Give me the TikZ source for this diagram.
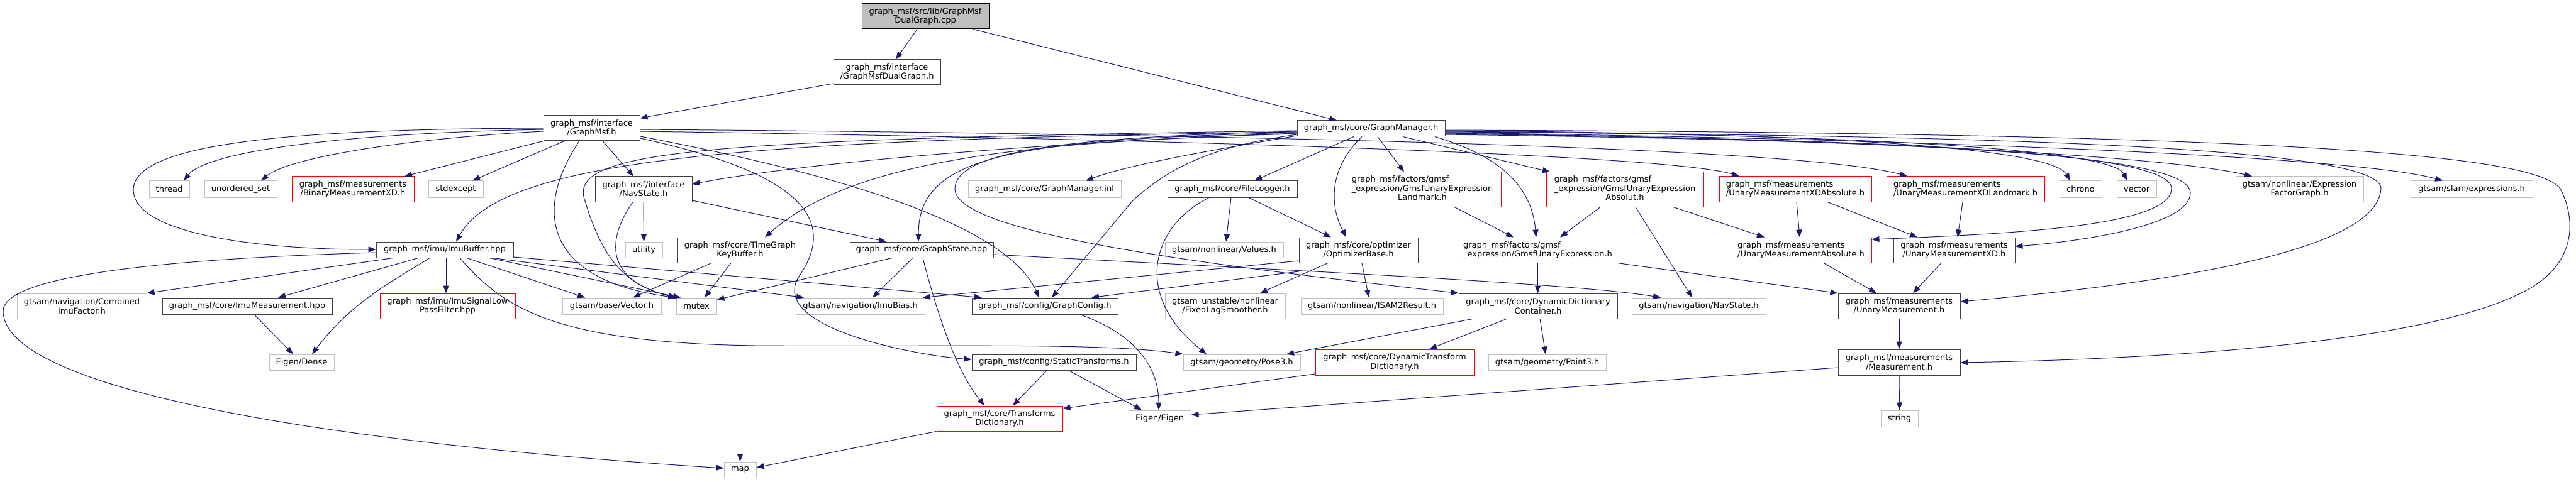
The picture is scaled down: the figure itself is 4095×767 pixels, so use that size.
\documentclass[tikz,border=0pt]{standalone}
\usepackage{fontspec}
\setmainfont{DejaVu Sans}
\usetikzlibrary{arrows.meta}
\definecolor{edgeblue}{HTML}{191970}
\definecolor{boxdark}{HTML}{404040}
\definecolor{boxlight}{HTML}{BFBFBF}
\newcommand\mkbox[7]{\node[#2, minimum width={#5pt-#3pt}, minimum height={#6pt-#4pt}] (#1) at ({(#3+#5)/2},{(#4+#6)/2}) {#7};}
\tikzset{
 nb/.style={draw=boxdark, line width=1pt, fill=white, inner sep=0pt, font={\fontsize{13}{14.5}\selectfont}, align=center},
 ne/.style={nb, draw=boxlight},
 nr/.style={nb, draw=red},
 nroot/.style={nb, draw=black, fill=boxlight},
 dep/.style={draw=edgeblue, line width=1pt, -{Triangle[length=12pt,width=9pt]}},
}
\begin{document}
\begin{tikzpicture}[x=1pt,y=-1pt]
\useasboundingbox[fill=white] (0,0) rectangle (4095,767);
% row 0-1
\mkbox{root}{nroot}{1370}{6}{1572}{46}{graph\_msf/src/lib/GraphMsf\\DualGraph.cpp}
\mkbox{dual}{nb}{1325}{95}{1495}{135}{graph\_msf/interface\\/GraphMsfDualGraph.h}
\mkbox{gmsf}{nb}{864}{184}{1017}{224}{graph\_msf/interface\\/GraphMsf.h}
\mkbox{gm}{nb}{2062}{192}{2297}{217}{graph\_msf/core/GraphManager.h}
% row 2
\mkbox{thread}{ne}{237}{288}{301}{314}{thread}
\mkbox{uset}{ne}{325}{288}{440}{314}{unordered\_set}
\mkbox{binxd}{nr}{464}{281}{658}{321}{graph\_msf/measurements\\/BinaryMeasurementXD.h}
\mkbox{stdexcept}{ne}{681}{288}{768}{314}{stdexcept}
\mkbox{navi}{nb}{946}{281}{1100}{321}{graph\_msf/interface\\/NavState.h}
\mkbox{inl}{ne}{1539}{288}{1782}{314}{graph\_msf/core/GraphManager.inl}
\mkbox{flog}{nb}{1856}{288}{2062}{314}{graph\_msf/core/FileLogger.h}
\mkbox{lmk}{nr}{2136}{274}{2386}{329}{\begin{tabular}{@{}l@{}}graph\_msf/factors/gmsf\\\_expression/GmsfUnaryExpression\\\multicolumn{1}{@{}c@{}}{Landmark.h}\end{tabular}}
\mkbox{absl}{nr}{2458}{274}{2708}{329}{\begin{tabular}{@{}l@{}}graph\_msf/factors/gmsf\\\_expression/GmsfUnaryExpression\\\multicolumn{1}{@{}c@{}}{Absolut.h}\end{tabular}}
\mkbox{xdabs}{nr,align=left}{2733}{281}{2975}{321}{graph\_msf/measurements\\/UnaryMeasurementXDAbsolute.h}
\mkbox{xdlmk}{nr,align=left}{2999}{281}{3250}{321}{graph\_msf/measurements\\/UnaryMeasurementXDLandmark.h}
\mkbox{chrono}{ne}{3274}{288}{3341}{314}{chrono}
\mkbox{vector}{ne}{3365}{288}{3428}{314}{vector}
\mkbox{efg}{ne}{3554}{281}{3757}{321}{gtsam/nonlinear/Expression\\FactorGraph.h}
\mkbox{expr}{ne}{3832}{288}{4026}{314}{gtsam/slam/expressions.h}
% row 3
\mkbox{imubuf}{nb}{598}{385}{816}{410}{graph\_msf/imu/ImuBuffer.hpp}
\mkbox{utility}{ne}{994}{385}{1053}{410}{utility}
\mkbox{tgkb}{nb}{1077}{378}{1276}{418}{graph\_msf/core/TimeGraph\\KeyBuffer.h}
\mkbox{gstate}{nb}{1351}{385}{1579}{410}{graph\_msf/core/GraphState.hpp}
\mkbox{values}{ne}{1852}{385}{2040}{410}{gtsam/nonlinear/Values.h}
\mkbox{optb}{nb}{2065}{378}{2254}{418}{graph\_msf/core/optimizer\\/OptimizerBase.h}
\mkbox{gue}{nr,align=left}{2314}{378}{2575}{418}{graph\_msf/factors/gmsf\\\_expression/GmsfUnaryExpression.h}
\mkbox{uma}{nr,align=left}{2751}{378}{2975}{418}{graph\_msf/measurements\\/UnaryMeasurementAbsolute.h}
\mkbox{umxd}{nb}{3010}{378}{3203}{418}{graph\_msf/measurements\\/UnaryMeasurementXD.h}
% row 4
\mkbox{cimu}{ne}{27}{467}{233}{507}{gtsam/navigation/Combined\\ImuFactor.h}
\mkbox{imumeas}{nb}{258}{474}{528}{500}{graph\_msf/core/ImuMeasurement.hpp}
\mkbox{lpf}{nr}{604}{467}{819}{507}{graph\_msf/imu/ImuSignalLow\\PassFilter.hpp}
\mkbox{vec}{ne}{894}{474}{1051}{500}{gtsam/base/Vector.h}
\mkbox{mutex}{ne}{1075}{474}{1139}{500}{mutex}
\mkbox{imubias}{ne}{1265}{474}{1470}{500}{gtsam/navigation/ImuBias.h}
\mkbox{gconf}{nb}{1545}{474}{1777}{500}{graph\_msf/config/GraphConfig.h}
\mkbox{fls}{ne}{1852}{467}{2043}{507}{gtsam\_unstable/nonlinear\\/FixedLagSmoother.h}
\mkbox{isam}{ne}{2068}{474}{2294}{500}{gtsam/nonlinear/ISAM2Result.h}
\mkbox{ddc}{nb}{2319}{467}{2571}{507}{graph\_msf/core/DynamicDictionary\\Container.h}
\mkbox{gnav}{ne}{2594}{474}{2807}{500}{gtsam/navigation/NavState.h}
\mkbox{um}{nb}{2922}{467}{3116}{507}{graph\_msf/measurements\\/UnaryMeasurement.h}
% row 5
\mkbox{edense}{ne}{428}{564}{531}{589}{Eigen/Dense}
\mkbox{stf}{nb}{1545}{564}{1806}{589}{graph\_msf/config/StaticTransforms.h}
\mkbox{pose3}{ne}{1881}{564}{2067}{589}{gtsam/geometry/Pose3.h}
\mkbox{dtd}{nr}{2091}{556}{2343}{597}{graph\_msf/core/DynamicTransform\\Dictionary.h}
\mkbox{point3}{ne}{2366}{564}{2553}{589}{gtsam/geometry/Point3.h}
\mkbox{meas}{nb}{2922}{556}{3116}{597}{graph\_msf/measurements\\/Measurement.h}
% row 6-7
\mkbox{tdict}{nr}{1489}{646}{1689}{686}{graph\_msf/core/Transforms\\Dictionary.h}
\mkbox{eeigen}{ne}{1794}{653}{1893}{679}{Eigen/Eigen}
\mkbox{string}{ne}{2990}{653}{3049}{679}{string}
\mkbox{map}{ne}{1151}{735}{1202}{760}{map}
% ---------- edges ----------
\draw[dep] (root.south -| 1458,0) -- (dual.north -| 1424,0);
\draw[dep] (root.south -| 1547,0) -- (gm.north -| 2125,0);
\draw[dep] (dual.west |- 0,133) -- (gmsf.east |- 0,188);
% GraphMsf.h
\draw[dep] (gmsf.west |- 0,206) .. controls (550,212) and (330,240) .. (thread.north -| 292,0);
\draw[dep] (gmsf.west |- 0,209) .. controls (650,220) and (460,250) .. (uset.north -| 415,0);
\draw[dep] (gmsf.south west) -- (binxd.north -| 643,0);
\draw[dep] (gmsf.south -| 897,0) -- (stdexcept.north -| 751,0);
\draw[dep] (gmsf.south -| 958,0) -- (navi.north -| 1007,0);
\draw[dep] (gmsf.west |- 0,204) .. controls (450,205) and (212,230) .. (212,302) .. controls (212,370) and (400,397) .. (imubuf.west |- 0,397);
\draw[dep] (gmsf.south -| 921,0) .. controls (850,330) and (860,445) .. (mutex.north west);
\draw[dep] (gmsf.east |- 0,217) .. controls (1350,280) and (1600,360) .. (gconf.north -| 1652,0);
\draw[dep] (gmsf.east |- 0,220) .. controls (1250,270) and (1340,340) .. (1270,440) .. controls (1220,520) and (1450,565) .. (stf.west |- 0,572);
\draw[dep] (gmsf.east |- 0,206) .. controls (1800,212) and (2850,230) .. (xdlmk.north -| 3032,0);
\draw[dep] (gmsf.east |- 0,209) .. controls (1800,220) and (2650,245) .. (xdabs.north -| 2765,0);
% GraphManager.h
\draw[dep] (gm.west |- 0,216) .. controls (1950,235) and (1800,260) .. (inl.north -| 1726,0);
\draw[dep] (gm.south -| 2152,0) -- (flog.north -| 1994,0);
\draw[dep] (gm.south -| 2165,0) .. controls (2110,270) and (2115,330) .. (optb.north -| 2140,0);
\draw[dep] (gm.south -| 2190,0) -- (lmk.north -| 2232,0);
\draw[dep] (gm.south -| 2230,0) -- (absl.north -| 2464,0);
\draw[dep] (gm.south -| 2281,0) .. controls (2390,250) and (2435,300) .. (gue.north -| 2442,0);
\draw[dep] (gm.west |- 0,212) .. controls (1700,225) and (1300,255) .. (navi.east |- 0,293);
\draw[dep] (gm.west |- 0,213) .. controls (1600,225) and (1350,260) .. (tgkb.north -| 1216,0);
\draw[dep] (gm.west |- 0,210) .. controls (1200,222) and (800,250) .. (imubuf.north -| 725,0);
\draw[dep] (gm.west |- 0,208) .. controls (1100,222) and (900,240) .. (930,320) .. controls (960,420) and (1000,455) .. (mutex.north west);
\draw[dep] (gm.west |- 0,211) .. controls (1600,222) and (1460,250) .. (gstate.north -| 1460,0);
\draw[dep] (gm.west |- 0,214) .. controls (1950,230) and (1870,255) .. (1800,320) -- (gconf.north -| 1672,0);
\draw[dep] (gm.west |- 0,209) .. controls (1700,218) and (1520,240) .. (1518,300) .. controls (1516,370) and (1900,420) .. (ddc.north west);
\draw[dep] (gm.east |- 0,208) .. controls (2900,212) and (3260,235) .. (chrono.north -| 3291,0);
\draw[dep] (gm.east |- 0,209) .. controls (3000,214) and (3360,240) .. (vector.north -| 3381,0);
\draw[dep] (gm.east |- 0,212) .. controls (3000,222) and (3450,250) .. (efg.north -| 3580,0);
\draw[dep] (gm.east |- 0,211) .. controls (3100,222) and (3750,250) .. (expr.north -| 3883,0);
\draw[dep] (gm.east |- 0,213) .. controls (3000,222) and (3452,240) .. (3452,300) .. controls (3452,360) and (3200,372) .. (uma.east |- 0,381);
\draw[dep] (gm.east |- 0,214) .. controls (3000,224) and (3482,240) .. (3482,307) .. controls (3482,360) and (3300,385) .. (umxd.east |- 0,392);
\draw[dep] (gm.east |- 0,210) .. controls (3200,215) and (3785,235) .. (3785,300) .. controls (3780,400) and (3450,450) .. (um.east |- 0,480);
\draw[dep] (gm.east |- 0,207) .. controls (3700,212) and (4030,250) .. (4070,300) .. controls (4100,360) and (4090,430) .. (4000,470) .. controls (3850,540) and (3500,570) .. (meas.east |- 0,577);
% NavState (interface)
\draw[dep] (navi.south) -- (utility.north);
\draw[dep] (navi.south -| 1006,0) .. controls (965,380) and (960,445) .. (mutex.north west);
\draw[dep] (navi.east |- 0,319) -- (gstate.north -| 1409,0);
% ImuBuffer
\draw[dep] (imubuf.south -| 625,0) -- (cimu.north east);
\draw[dep] (imubuf.south -| 665,0) -- (imumeas.north -| 442,0);
\draw[dep] (imubuf.south -| 683,0) .. controls (620,450) and (560,480) .. (edense.north -| 496,0);
\draw[dep] (imubuf.south -| 709,0) -- (lpf.north -| 709,0);
\draw[dep] (imubuf.south -| 742,0) -- (vec.north -| 930,0);
\draw[dep] (imubuf.south -| 778,0) -- (mutex.north -| 1082,0);
\draw[dep] (imubuf.south -| 783,0) -- (imubias.north -| 1278,0);
\draw[dep] (imubuf.east |- 0,409) -- (gconf.north -| 1561,0);
\draw[dep] (imubuf.south -| 731,0) .. controls (800,490) and (880,545) .. (1200,550) .. controls (1500,552) and (1750,545) .. (pose3.north west);
\draw[dep] (imubuf.west |- 0,402) .. controls (250,412) and (5,440) .. (5,495) .. controls (5,610) and (450,700) .. (map.west |- 0,745);
\draw[dep] (imumeas.south -| 404,0) -- (edense.north -| 466,0);
% TimeGraphKeyBuffer
\draw[dep] (tgkb.south -| 1131,0) -- (vec.north -| 1006,0);
\draw[dep] (tgkb.south -| 1162,0) -- (mutex.north -| 1120,0);
\draw[dep] (tgkb.south -| 1176.5,0) -- (map.north);
% GraphState
\draw[dep] (gstate.south -| 1451,0) -- (imubias.north -| 1387,0);
\draw[dep] (gstate.south -| 1418,0) -- (mutex.east |- 0,477);
\draw[dep] (gstate.south -| 1467,0) .. controls (1490,500) and (1520,590) .. (tdict.north -| 1565,0);
\draw[dep] (gstate.east |- 0,405) .. controls (2000,428) and (2500,450) .. (gnav.north -| 2640,0);
% config
\draw[dep] (gconf.south -| 1717,0) .. controls (1800,530) and (1842,580) .. (eeigen.north -| 1842,0);
\draw[dep] (stf.south -| 1664,0) -- (tdict.north -| 1610,0);
\draw[dep] (stf.south -| 1699,0) -- (eeigen.north -| 1815,0);
\draw[dep] (tdict.south west) -- (map.east |- 0,744);
% FileLogger
\draw[dep] (flog.south -| 1957,0) -- (values.north -| 1949,0);
\draw[dep] (flog.south -| 1985,0) -- (optb.north -| 2116,0);
\draw[dep] (flog.south -| 1922,0) .. controls (1830,360) and (1800,470) .. (pose3.north -| 1918,0);
% OptimizerBase
\draw[dep] (optb.south -| 2165,0) -- (isam.north -| 2176,0);
\draw[dep] (optb.south -| 2111,0) -- (fls.north -| 2003,0);
\draw[dep] (optb.west |- 0,432) -- (gconf.north -| 1735,0);
\draw[dep] (optb.west |- 0,415) -- (imubias.north -| 1467,0);
% factors
\draw[dep] (gue.south -| 2444.5,0) -- (ddc.north -| 2444.5,0);
\draw[dep] (gue.south -| 2571,0) -- (um.north west);
\draw[dep] (lmk.south -| 2312,0) -- (gue.north -| 2406,0);
\draw[dep] (absl.south -| 2544,0) -- (gue.north -| 2480,0);
\draw[dep] (absl.south -| 2600,0) -- (gnav.north -| 2690,0);
\draw[dep] (absl.south -| 2660,0) -- (uma.north -| 2805,0);
% measurements
\draw[dep] (xdabs.south -| 2856,0) -- (uma.north -| 2861,0);
\draw[dep] (xdabs.south -| 2905,0) -- (umxd.north -| 3048,0);
\draw[dep] (xdlmk.south -| 3120,0) -- (umxd.north -| 3112,0);
\draw[dep] (uma.south -| 2899,0) -- (um.north -| 2983,0);
\draw[dep] (umxd.south -| 3086,0) -- (um.north -| 3041,0);
\draw[dep] (um.south) -- (meas.north);
\draw[dep] (meas.south) -- (string.north);
\draw[dep] (meas.west |- 0,585) -- (eeigen.east |- 0,660);
% dynamic dictionary
\draw[dep] (ddc.south -| 2341,0) -- (pose3.north -| 2045,0);
\draw[dep] (ddc.south -| 2395,0) -- (dtd.north -| 2272,0);
\draw[dep] (ddc.south -| 2448,0) -- (point3.north -| 2457,0);
\draw[dep] (dtd.west |- 0,595) -- (tdict.east |- 0,650);
\end{tikzpicture}
\end{document}
